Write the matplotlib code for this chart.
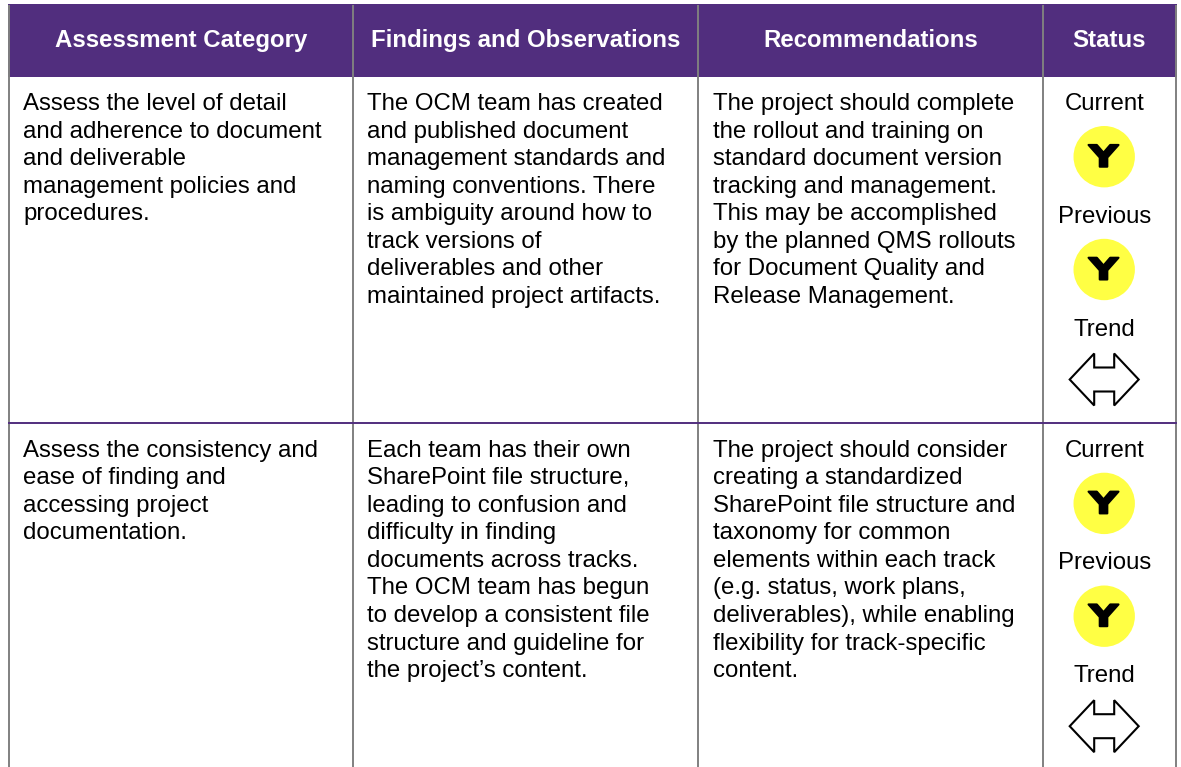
import matplotlib
matplotlib.use("Agg")
import matplotlib.pyplot as plt
from matplotlib.patches import Rectangle, Circle, Polygon
from matplotlib.transforms import Affine2D
import matplotlib.patheffects as pe

plt.rcParams['font.family'] = ['Liberation Sans', 'DejaVu Sans']

headers = ["Assessment Category", "Findings and Observations", "Recommendations", "Status"]
row1 = [
    ["Assess the level of detail", "and adherence to document", "and deliverable", "management policies and", "procedures."],
    ["The OCM team has created", "and published document", "management standards and", "naming conventions. There", "is ambiguity around how to", "track versions of", "deliverables and other", "maintained project artifacts."],
    ["The project should complete", "the rollout and training on", "standard document version", "tracking and management.", "This may be accomplished", "by the planned QMS rollouts", "for Document Quality and", "Release Management."],
]
row2 = [
    ["Assess the consistency and", "ease of finding and", "accessing project", "documentation."],
    ["Each team has their own", "SharePoint file structure,", "leading to confusion and", "difficulty in finding", "documents across tracks.", "The OCM team has begun", "to develop a consistent file", "structure and guideline for", "the project\u2019s content."],
    ["The project should consider", "creating a standardized", "SharePoint file structure and", "taxonomy for common", "elements within each track", "(e.g. status, work plans,", "deliverables), while enabling", "flexibility for track-specific", "content."],
]
status_labels = ["Current", "Previous", "Trend"]
rating = "Y"

PURPLE = "#512E7E"
GREY = "#808080"
YELLOW = "#FFFF44"
W, H = 1181, 767
col_edges = [9, 353, 698, 1043, 1176]
header_top, header_bottom = 4, 76.5
row_rule = 423
LINE = 27.55
FS = 17.3

fig = plt.figure(figsize=(W / 100, H / 100), dpi=100)
ax = fig.add_axes([0, 0, 1, 1])
ax.set_xlim(0, W)
ax.set_ylim(H, 0)
ax.axis("off")

ax.add_patch(Rectangle((col_edges[0] - 1, header_top), col_edges[-1] - col_edges[0] + 2, header_bottom - header_top,
                       fc=PURPLE, ec="none", zorder=1))
for x in col_edges:
    ax.plot([x, x], [header_top + 1, H], color=GREY, lw=1.4, zorder=2, solid_capstyle="butt")
ax.plot([col_edges[0], col_edges[-1]], [row_rule, row_rule], color=PURPLE, lw=1.4, zorder=3)

for i, h in enumerate(headers):
    ax.text((col_edges[i] + col_edges[i + 1]) / 2, 47.3, h, color="white", fontsize=FS, fontweight="bold",
            ha="center", va="baseline", zorder=4)

def body(lines, x, y0):
    for k, s in enumerate(lines):
        ax.text(x, y0 + k * LINE, s, fontsize=FS, color="black", ha="left", va="baseline", zorder=4)

text_x = [23, 367, 713]
for i in range(3):
    body(row1[i], text_x[i], 110)
    body(row2[i], text_x[i], 456.7)

class HStretch(pe.AbstractPathEffect):
    """Widen a glyph about a display x, so the heavy Y stays real text."""
    def __init__(self, cx, factor, stroke):
        super().__init__()
        self.cx, self.factor, self.stroke = cx, factor, stroke

    def draw_path(self, renderer, gc, tpath, affine, rgbFace=None):
        stretch = Affine2D().translate(-self.cx, 0).scale(self.factor, 1).translate(self.cx, 0)
        gc0 = renderer.new_gc()
        gc0.copy_properties(gc)
        gc0.set_linewidth(self.stroke)
        gc0.set_foreground("black")
        gc0.set_joinstyle("round")
        renderer.draw_path(gc0, tpath, affine + stretch, rgbFace)
        gc0.restore()

def trend(cx, cy):
    w, hh, nw, ny = 34.5, 26, 10, 12
    pts = [(cx - w, cy), (cx - nw, cy - hh), (cx - nw, cy - ny), (cx + nw, cy - ny), (cx + nw, cy - hh),
           (cx + w, cy), (cx + nw, cy + hh), (cx + nw, cy + ny), (cx - nw, cy + ny), (cx - nw, cy + hh)]
    ax.add_patch(Polygon(pts, closed=True, fc="white", ec="black", lw=1.5, zorder=4, joinstyle="miter"))

def badge(cx, cy):
    ax.add_patch(Circle((cx, cy), 30.7, fc=YELLOW, ec="none", zorder=3))
    dx = ax.transData.transform((cx, cy))[0]
    ax.text(cx - 0.5, cy + 10, rating, fontsize=21.5, fontweight="bold", family=["DejaVu Sans"], ha="center", va="baseline",
            color="black", zorder=4, path_effects=[HStretch(dx, 1.35, 1.5)])

def status(offset):
    cx = 1104.2
    ax.text(cx, 110 + offset, status_labels[0], fontsize=FS, ha="center", va="baseline", zorder=4)
    badge(cx, 156.7 + offset)
    ax.text(cx, 222.7 + offset, status_labels[1], fontsize=FS, ha="center", va="baseline", zorder=4)
    badge(cx, 269.5 + offset)
    ax.text(cx, 335.7 + offset, status_labels[2], fontsize=FS, ha="center", va="baseline", zorder=4)
    trend(cx, 379.5 + offset)

status(0)
status(346.7)

fig.savefig("out.png", dpi=100, facecolor="white")
